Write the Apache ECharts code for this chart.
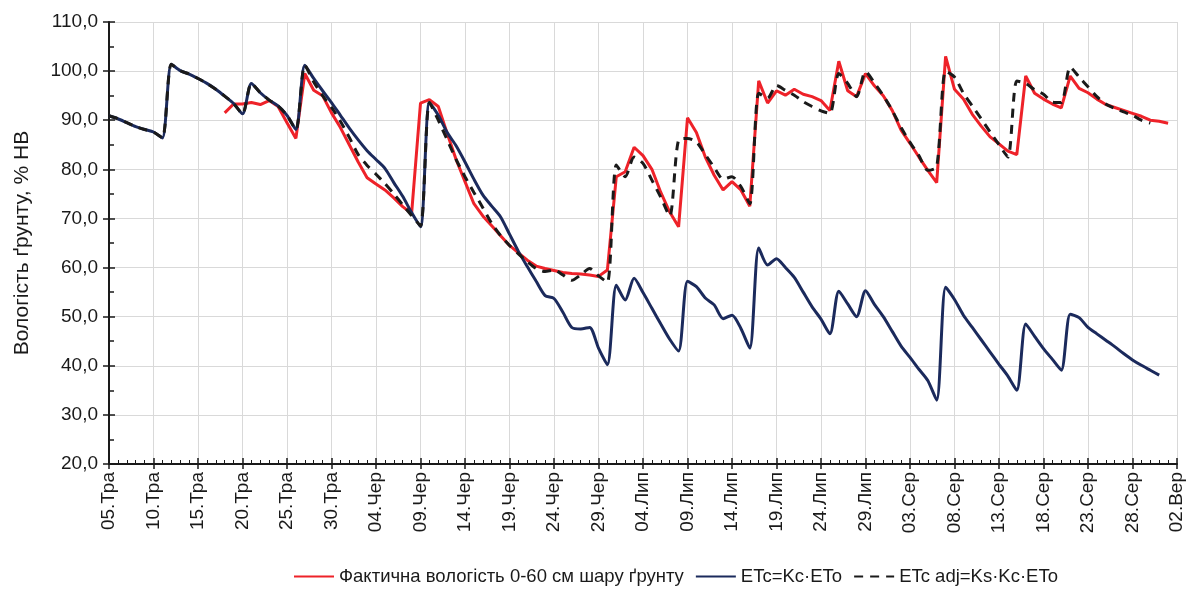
<!DOCTYPE html>
<html>
<head>
<meta charset="utf-8">
<script src="https://cdn.jsdelivr.net/npm/echarts@6/dist/echarts.min.js"></script>
<style>html,body{margin:0;padding:0;background:#fff}#c{width:1188px;height:589px}</style>
</head>
<body>
<div id="c"></div>
<script>
// x tick labels every 5 days (day index 0..120)
const tickLabels = ['05.Тра','10.Тра','15.Тра','20.Тра','25.Тра','30.Тра','04.Чер','09.Чер','14.Чер','19.Чер','24.Чер','29.Чер','04.Лип','09.Лип','14.Лип','19.Лип','24.Лип','29.Лип','03.Сер','08.Сер','13.Сер','18.Сер','23.Сер','28.Сер','02.Вер'];
const yTicks = [20,30,40,50,60,70,80,90,100,110];
const seriesNames = ['Фактична вологість 0-60 см шару ґрунту','ETc=Kc·ETo','ETc adj=Ks·Kc·ETo'];

// daily values, day 0 = 05.Тра
const actual = [null,null,null,null,null,null,null,null,null,null,null,null,null,
 91.5,93.3,93.3,93.6,93.2,94.0,92.8,89.5,86.3,99.5,96.1,95.0,91.5,88.5,85.0,81.5,78.3,77.0,
 75.8,74.2,72.4,71.0,93.5,94.2,92.8,87.3,82.0,77.5,73.0,70.5,68.5,66.5,64.5,63.0,61.5,60.3,59.8,59.4,
 59.0,58.8,58.7,58.5,58.2,59.5,78.5,79.5,84.5,82.8,80.0,75.3,71.3,68.3,90.5,87.5,82.5,78.8,75.8,77.5,
 75.8,72.5,98.0,93.5,96.0,95.1,96.3,95.3,94.8,94.0,92.0,102.0,96.0,94.8,99.5,97.0,95.0,92.0,88.0,85.3,
 82.5,79.8,77.3,103.0,96.3,94.3,91.2,88.8,86.6,85.2,83.7,83.0,99.0,95.5,94.3,93.3,92.5,99.0,96.5,95.6,
 94.3,93.2,92.6,92.0,91.4,90.8,90.0,89.8,89.4,null];

const etc = [90.9,90.3,89.5,88.7,88.1,87.6,86.4,101.4,100.1,99.4,98.5,97.5,96.3,94.9,93.4,91.3,97.5,95.6,94.1,92.9,
 91.0,88.1,101.2,98.5,96.0,93.6,91.0,88.4,86.0,83.8,82.0,80.2,77.3,74.5,71.2,68.3,93.6,91.0,87.5,84.8,
 81.5,78.0,74.8,72.5,70.3,66.8,63.3,60.2,57.2,54.3,53.7,50.9,47.8,47.5,47.8,43.6,40.2,56.4,53.4,57.8,
 54.9,51.7,48.5,45.4,43.0,57.2,56.1,53.8,52.4,49.6,50.3,47.6,43.6,64.0,60.5,61.8,60.0,58.0,55.0,52.0,
 49.5,46.5,55.2,52.6,50.0,55.3,52.5,50.0,47.0,44.0,41.7,39.3,37.0,33.0,56.0,53.5,50.3,47.8,45.3,42.8,
 40.3,37.9,35.0,48.5,46.0,43.5,41.3,39.1,50.5,49.8,47.8,46.5,45.2,43.9,42.5,41.2,40.1,39.1,38.1,null,null];

const etcAdj = [90.9,90.3,89.5,88.7,88.1,87.6,86.4,101.4,100.1,99.4,98.5,97.5,96.3,94.9,93.4,91.3,97.5,95.6,94.1,92.9,
 91.0,88.1,101.2,97.8,95.0,92.6,89.8,86.5,83.0,80.8,79.0,77.1,75.0,72.8,70.6,68.5,93.6,90.0,86.0,82.0,
 78.5,75.3,72.2,69.0,66.5,64.5,62.8,61.2,59.8,59.2,59.5,58.5,57.4,58.5,59.8,58.3,57.0,80.9,78.5,82.5,
 81.2,77.8,74.3,70.5,86.0,86.3,85.6,83.0,80.4,78.0,78.5,76.5,73.0,95.5,94.5,97.1,96.1,95.1,93.8,92.8,
 91.9,91.4,99.5,97.5,94.8,99.9,97.6,95.0,92.0,88.5,85.5,82.8,79.8,80.5,100.0,98.8,95.5,92.9,90.3,87.6,
 85.0,82.5,98.0,97.5,96.2,95.3,93.7,93.6,100.8,98.8,96.8,94.8,93.3,92.4,91.7,91.0,90.0,89.4,null,null,null];

const toPairs = arr => arr.map((v, i) => [i, v]);
const FONT = "'Liberation Sans', Arial, sans-serif";
const AX = '#1a1a1a';

const chart = echarts.init(document.getElementById('c'), null, {renderer: 'canvas'});
const xBase = {type: 'value', min: 0, max: 120, interval: 5, gridIndex: 0};
const yBase = {type: 'value', min: yTicks[0], max: yTicks[yTicks.length - 1], interval: 10, gridIndex: 0};
chart.setOption({
  animation: false,
  textStyle: {fontFamily: FONT},
  grid: {left: 109, right: 11, top: 22, bottom: 125, containLabel: false},
  xAxis: [
    Object.assign({}, xBase, {
      axisLine: {show: true, onZero: false, lineStyle: {color: AX, width: 2}},
      axisTick: {show: true, inside: true, length: 6, lineStyle: {color: AX, width: 1.5}},
      minorTick: {show: true, splitNumber: 5, length: 4, lineStyle: {color: AX, width: 1}},
      splitLine: {show: true, lineStyle: {color: '#d9d9d9', width: 1}},
      axisLabel: {rotate: 90, margin: 8, fontSize: 19, color: AX, fontFamily: FONT,
        formatter: v => tickLabels[Math.round(v / 5)] || ''}
    }),
    Object.assign({}, xBase, {
      position: 'bottom',
      axisLine: {show: false, onZero: false},
      axisTick: {show: true, inside: false, length: 5, lineStyle: {color: AX, width: 1.5}},
      axisLabel: {show: false}, splitLine: {show: false}
    })
  ],
  yAxis: [
    Object.assign({}, yBase, {
      name: 'Вологість ґрунту, % НВ', nameLocation: 'middle', nameGap: 76,
      nameTextStyle: {fontSize: 21, color: AX, fontFamily: FONT},
      axisLine: {show: true, lineStyle: {color: AX, width: 2}},
      axisTick: {show: true, inside: true, length: 6, lineStyle: {color: AX, width: 1.5}},
      minorTick: {show: true, splitNumber: 2, length: 5, lineStyle: {color: AX, width: 1.5}},
      splitLine: {show: true, lineStyle: {color: '#d9d9d9', width: 1}},
      axisLabel: {margin: 11, fontSize: 19, color: AX, fontFamily: FONT,
        formatter: v => v.toFixed(1).replace('.', ',')}
    }),
    Object.assign({}, yBase, {
      position: 'left',
      axisLine: {show: false},
      axisTick: {show: true, inside: false, length: 6, lineStyle: {color: AX, width: 1.5}},
      axisLabel: {show: false}, splitLine: {show: false}
    })
  ],
  legend: {
    top: 562, left: 288, itemWidth: 40, itemHeight: 14, itemGap: 11,
    itemStyle: {opacity: 0},
    textStyle: {fontSize: 18.5, color: AX, fontFamily: FONT},
    data: seriesNames
  },
  series: [
    {name: seriesNames[0], type: 'line', data: toPairs(actual), showSymbol: false, symbol: 'none',
      lineStyle: {color: '#ee2229', width: 3}, itemStyle: {color: '#ee2229'}, z: 3},
    {name: seriesNames[1], type: 'line', data: toPairs(etc), showSymbol: false, symbol: 'none', smooth: 0.25,
      lineStyle: {color: '#1b2a5c', width: 3}, itemStyle: {color: '#1b2a5c'}, z: 4},
    {name: seriesNames[2], type: 'line', data: toPairs(etcAdj), showSymbol: false, symbol: 'none', smooth: 0.25,
      lineStyle: {color: '#1a1a1a', width: 3, type: [9, 7]}, itemStyle: {color: '#1a1a1a'}, z: 5}
  ]
});
</script>
</body>
</html>
